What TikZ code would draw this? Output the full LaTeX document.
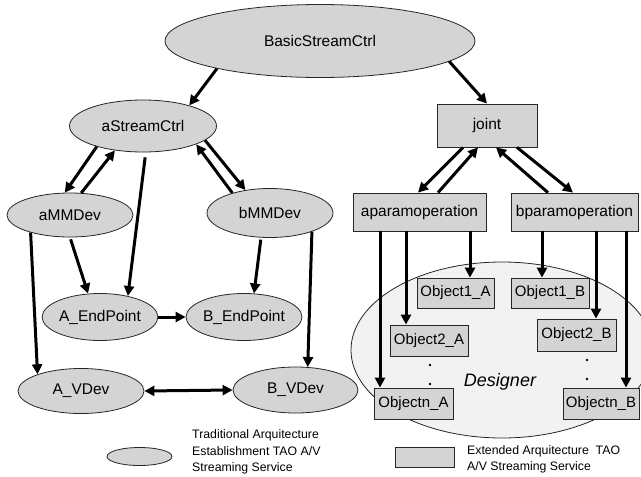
\documentclass[tikz,border=0pt]{standalone}
\usepackage{fontspec}
\setmainfont{Liberation Sans}
\usetikzlibrary{shapes.geometric,arrows.meta}
\begin{document}
\begin{tikzpicture}[x=1pt,y=-1pt,
  ell/.style={ellipse,draw=black!85,line width=0.8pt,fill=black!17,inner sep=0pt,
    font=\fontsize{15.5}{18}\selectfont},
  box/.style={rectangle,draw=black!85,line width=0.8pt,fill=black!17,inner sep=0pt,
    font=\fontsize{15.5}{18}\selectfont},
  obj/.style={box,font=\fontsize{15}{18}\selectfont},
  arr/.style={line width=3pt,-{Triangle[length=10pt,width=10pt]}},
  dbl/.style={line width=3pt,{Triangle[length=10pt,width=10pt]}-{Triangle[length=10pt,width=10pt]}},
  dotn/.style={circle,fill=black,inner sep=0pt,minimum size=2.6pt},
  legtxt/.style={align=left,anchor=west,inner sep=0pt,font=\fontsize{12.3}{16.5}\selectfont}]
\useasboundingbox (0,0) rectangle (641,477);
\clip (0,0) rectangle (641,477);
% Designer region
\node[ellipse,draw=black!85,line width=0.8pt,fill=black!5,minimum width=302pt,minimum height=176pt,inner sep=0pt] (des) at (502,350) {};
\node[font=\fontsize{18}{20}\selectfont\itshape] (destxt) at (500,382) {Designer};
% left side nodes
\node[ell,minimum width=310pt,minimum height=73pt] (bsc) at (320,41) {BasicStreamCtrl};
\node[ell,minimum width=147pt,minimum height=52pt] (asc) at (143,126) {aStreamCtrl};
\node[ell,minimum width=126pt,minimum height=44pt] (amm) at (70,215) {aMMDev};
\node[ell,minimum width=126pt,minimum height=49pt] (bmm) at (270,213) {bMMDev};
\node[ell,minimum width=111pt,minimum height=47pt] (aep) at (100,317) {A\_EndPoint};
\node[ell,minimum width=116pt,minimum height=47pt] (bep) at (244,317) {B\_EndPoint};
\node[ell,minimum width=126pt,minimum height=45pt] (avd) at (81,391) {A\_VDev};
\node[ell,minimum width=125pt,minimum height=46pt] (bvd) at (295.5,390) {B\_VDev};
% right side nodes
\node[box,minimum width=100pt,minimum height=43pt] (joint) at (487,125.5) {joint};
\node[box,minimum width=133pt,minimum height=38pt] (apo) at (419.5,212) {aparamoperation};
\node[box,minimum width=127pt,minimum height=38pt] (bpo) at (574.5,212) {bparamoperation};
\node[obj,minimum width=77pt,minimum height=30pt] (o1a) at (455.5,293) {Object1\_A};
\node[obj,minimum width=78pt,minimum height=30pt] (o1b) at (550,293) {Object1\_B};
\node[obj,minimum width=78pt,minimum height=31pt] (o2a) at (429,340.5) {Object2\_A};
\node[obj,minimum width=79pt,minimum height=32pt] (o2b) at (576.5,335) {Object2\_B};
\node[obj,minimum width=79pt,minimum height=31pt] (ona) at (413.5,403.5) {Objectn\_A};
\node[obj,minimum width=76pt,minimum height=31pt] (onb) at (601,403.5) {Objectn\_B};
% dots
\node[dotn] (da1) at (430,365) {};
\node[dotn] (da2) at (430,384) {};
\node[dotn] (db1) at (587,360) {};
\node[dotn] (db2) at (587,379) {};
% arrows left
\draw[arr] (bsc.195) -- (asc.24);
\draw[arr] (bsc.351) -- (joint.north);
\draw[arr] (asc.204) -- (amm.103);
\draw[arr] (amm.63) -- (asc.221);
\draw[arr,shorten <=5pt] (asc.276) -- (aep.37);
\draw[arr] (bmm.152) -- (asc.341);
\draw[arr] (asc.347) -- (bmm.137);
\draw[arr] (amm.204) -- (avd.159);
\draw[arr,shorten <=2pt] (amm.270) -- (aep.117);
\draw[arr,shorten <=2pt] (bmm.250) -- (bep.67);
\draw[arr] (bmm.336) -- (bvd.62);
\draw[arr] (aep.east) -- (bep.west);
\draw[dbl] (avd.east) -- (bvd.west);
% arrows right
\draw[arr] ([xshift=-24pt]joint.south) -- ([xshift=-1.5pt]apo.north);
\draw[arr] ([xshift=18.5pt]apo.north) -- ([xshift=-9pt]joint.south);
\draw[arr] ([xshift=-26.5pt]bpo.north) -- ([xshift=9pt]joint.south);
\draw[arr] ([xshift=30pt]joint.south) -- ([xshift=-1.5pt]bpo.north);
\draw[arr] ([xshift=-39.5pt]apo.south) -- ([xshift=-39.5pt]apo.south |- ona.north);
\draw[arr] ([xshift=-13.5pt]apo.south) -- ([xshift=-13.5pt]apo.south |- o2a.north);
\draw[arr] ([xshift=50.5pt]apo.south) -- ([xshift=50.5pt]apo.south |- o1a.north);
\draw[arr] ([xshift=-32.5pt]bpo.south) -- ([xshift=-32.5pt]bpo.south |- o1b.north);
\draw[arr] ([xshift=21.5pt]bpo.south) -- ([xshift=21.5pt]bpo.south |- o2b.north);
\draw[arr] ([xshift=51.5pt]bpo.south) -- ([xshift=51.5pt]bpo.south |- onb.north);
% legend
\node[ell,minimum width=65pt,minimum height=18pt] (legell) at (139.5,456.5) {};
\node[legtxt] (legt1) at (192,452) {Traditional Arquitecture\\Establishment TAO A/V\\Streaming Service};
\node[box,minimum width=59pt,minimum height=20pt] (legbox) at (424.5,457) {};
\node[legtxt] (legt2) at (467,459.5) {Extended Arquitecture\ \ TAO\\A/V Streaming Service};
\end{tikzpicture}
\end{document}
